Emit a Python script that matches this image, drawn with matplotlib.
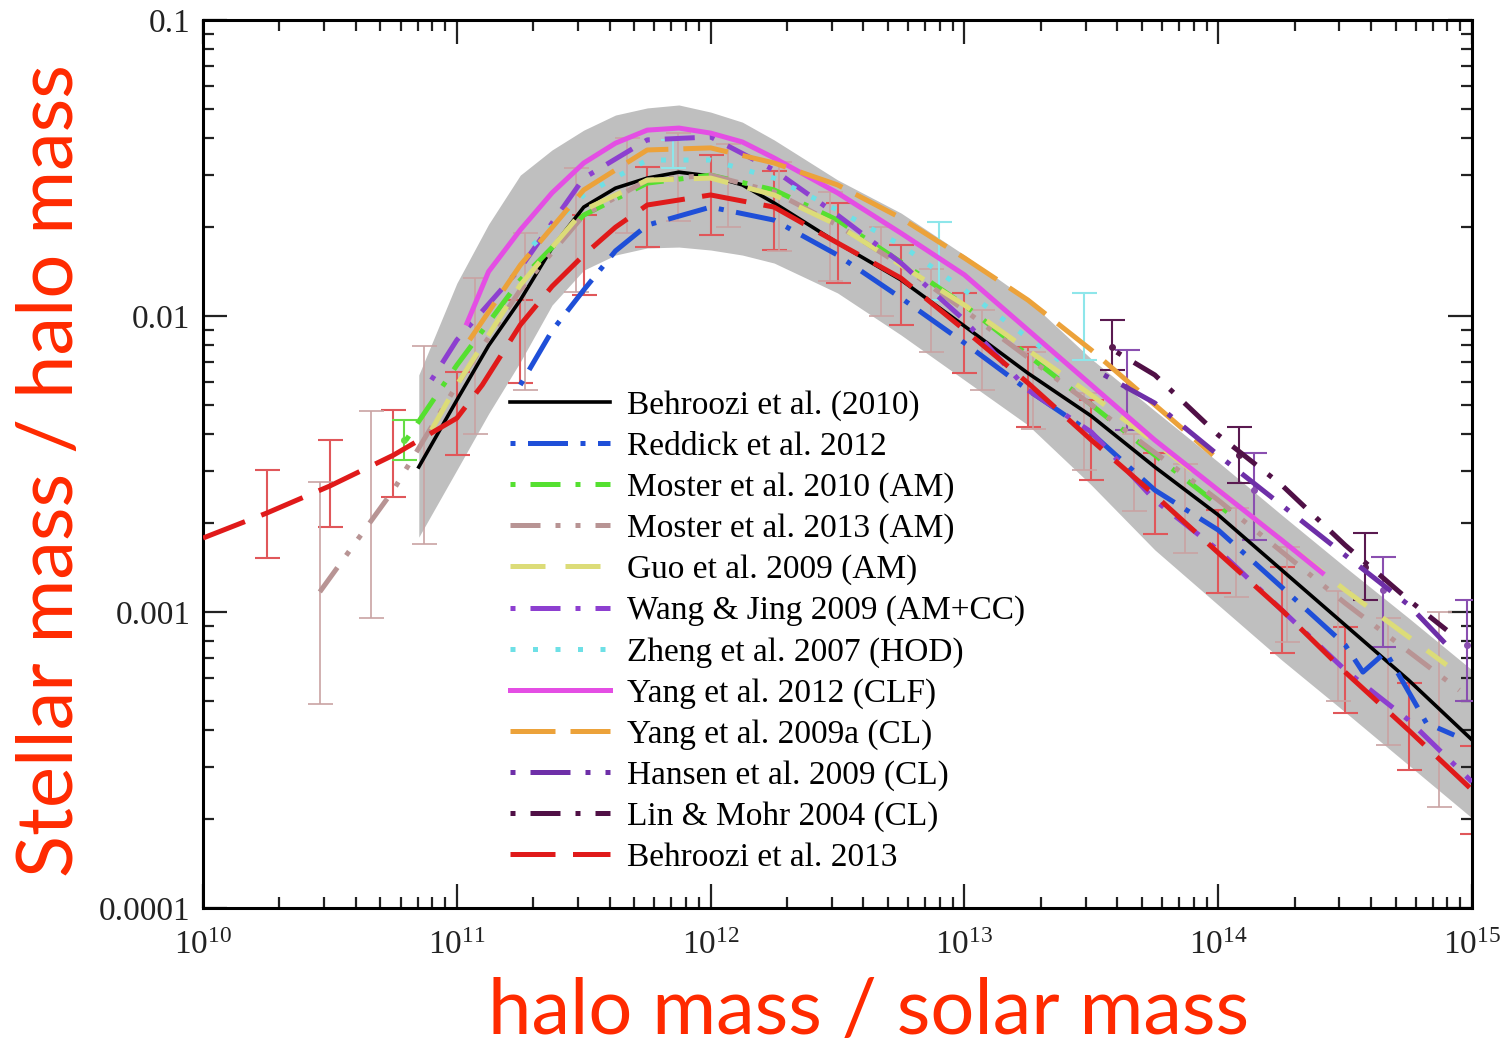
import numpy as np
import matplotlib
matplotlib.use('Agg')
import matplotlib.pyplot as plt
from matplotlib.ticker import LogLocator, FixedLocator, FixedFormatter

plt.rcParams['font.family'] = 'Liberation Serif'
plt.rcParams['mathtext.default'] = 'regular'

# ---- data (log10 halo mass, log10 stellar/halo mass) ----
band_logm = [10.85, 11.0, 11.125, 11.25, 11.375, 11.5, 11.625, 11.75, 11.875, 12.0, 12.125, 12.25, 12.5,
             12.75, 13.0, 13.25, 13.5, 13.75, 14.0, 14.25, 14.5, 14.75, 15.0]
band_hi = [-2.199, -1.889, -1.69, -1.524, -1.439, -1.372, -1.321, -1.297, -1.287, -1.311, -1.345, -1.405, -1.54,
           -1.652, -1.794, -1.946, -2.145, -2.32, -2.493, -2.672, -2.848, -3.02, -3.196]
band_lo = [-2.747, -2.52, -2.33, -2.155, -1.963, -1.845, -1.794, -1.77, -1.767, -1.777, -1.794, -1.821, -1.922,
           -2.064, -2.216, -2.368, -2.571, -2.79, -2.976, -3.162, -3.338, -3.517, -3.696]

beh10_logm = [10.85, 11.0, 11.125, 11.25, 11.375, 11.5, 11.625, 11.75, 11.875, 12.0, 12.125, 12.25, 12.5,
              12.75, 13.0, 13.25, 13.5, 13.75, 14.0, 14.25, 14.5, 14.75, 15.0]
beh10_logr = [-2.51, -2.284, -2.10, -1.946, -1.77, -1.632, -1.568, -1.534, -1.514, -1.527, -1.557, -1.618, -1.753,
              -1.878, -2.034, -2.193, -2.338, -2.51, -2.672, -2.858, -3.044, -3.23, -3.432]

reddick_logm = [11.25, 11.375, 11.5, 11.625, 11.75, 12.0, 12.25, 12.5, 12.75, 13.0, 13.25, 13.5, 13.75, 14.0,
                14.25, 14.5, 14.57, 14.66, 14.78, 14.82, 14.93]
reddick_logr = [-2.233, -2.05, -1.912, -1.78, -1.693, -1.632, -1.676, -1.794, -1.939, -2.091, -2.25, -2.395,
                -2.588, -2.723, -2.916, -3.111, -3.203, -3.135, -3.314, -3.375, -3.416]

moster10_logm = [10.8, 11.0, 11.25, 11.5, 11.75, 12.0, 12.25, 12.5, 12.75, 13.0, 13.25, 13.5, 13.75, 14.05]
moster10_logr = [-2.419, -2.166, -1.878, -1.659, -1.551, -1.524, -1.574, -1.676, -1.818, -1.963, -2.132,
                 -2.30, -2.47, -2.672]

moster13_logm = [10.46, 10.75, 11.0, 11.25, 11.5, 11.75, 12.0, 12.25, 12.5, 12.75, 13.0, 13.5, 14.0, 14.5, 14.95]
moster13_logr = [-2.932, -2.588, -2.233, -1.912, -1.659, -1.541, -1.524, -1.581, -1.693, -1.828, -1.98,
                 -2.30, -2.622, -2.97, -3.264]

guo_logm = [10.9, 11.0, 11.25, 11.5, 11.75, 12.0, 12.25, 12.5, 12.75, 13.0, 13.5, 14.0, 14.5, 14.9]
guo_logr = [-2.385, -2.233, -1.895, -1.642, -1.541, -1.534, -1.591, -1.693, -1.828, -1.963, -2.267,
            -2.588, -2.926, -3.179]

wang_logm = [10.9, 11.0, 11.25, 11.5, 11.75, 12.0, 12.25, 12.5, 12.75, 13.0, 13.25, 13.5, 13.75, 14.0,
             14.25, 14.5, 14.75, 15.0]
wang_logr = [-2.216, -2.081, -1.838, -1.534, -1.405, -1.395, -1.507, -1.659, -1.821, -2.014, -2.25, -2.392,
             -2.622, -2.791, -2.993, -3.196, -3.365, -3.574]

zheng_logm = [11.3, 11.5, 11.75, 12.0, 12.25, 12.5, 12.75, 13.0, 13.25, 13.4]
zheng_logr = [-1.76, -1.591, -1.473, -1.473, -1.534, -1.642, -1.76, -1.912, -2.074, -2.166]

yang12_logm = [11.04, 11.125, 11.25, 11.375, 11.5, 11.625, 11.75, 11.875, 12.0, 12.125, 12.25, 12.5, 12.75,
               13.0, 13.25, 13.5, 13.75, 14.0, 14.25, 14.41]
yang12_logr = [-2.024, -1.85, -1.709, -1.584, -1.483, -1.416, -1.372, -1.365, -1.382, -1.412, -1.466, -1.584,
               -1.72, -1.861, -2.047, -2.233, -2.419, -2.588, -2.757, -2.868]

yang09_logm = [11.05, 11.25, 11.5, 11.75, 12.0, 12.25, 12.5, 12.75, 13.0, 13.25, 13.5, 13.75, 13.98]
yang09_logr = [-2.081, -1.828, -1.574, -1.439, -1.432, -1.483, -1.557, -1.669, -1.804, -1.946, -2.115,
               -2.30, -2.47]

hansen_logm = [13.55, 13.75, 14.0, 14.25, 14.5, 14.75, 14.9]
hansen_logr = [-2.199, -2.294, -2.47, -2.639, -2.808, -2.976, -3.111]

lin_logm = [13.6, 13.75, 14.0, 14.25, 14.5, 14.75, 14.9]
lin_logr = [-2.122, -2.199, -2.402, -2.571, -2.774, -2.959, -3.061]

beh13_logm = [10.0, 10.25, 10.5, 10.75, 11.0, 11.1, 11.25, 11.375, 11.5, 11.625, 11.75, 12.0, 12.25, 12.5,
              12.75, 13.0, 13.25, 13.5, 13.75, 14.0, 14.25, 14.5, 14.75, 15.0]
beh13_logr = [-2.75, -2.666, -2.574, -2.47, -2.345, -2.233, -2.03, -1.90, -1.794, -1.70, -1.625, -1.591,
              -1.632, -1.753, -1.872, -2.047, -2.226, -2.419, -2.605, -2.80, -2.993, -3.203, -3.399, -3.601]

# error bars: Behroozi 2013 (center, half width in dex)
beh13_err_logm = [10.25, 10.5, 10.75, 11.0, 11.25, 11.5, 11.75, 12.0, 12.25, 12.5, 12.75, 13.0, 13.25,
                  13.5, 13.75, 14.0, 14.25, 14.5, 14.75, 15.0]
beh13_err_logr = [-2.669, -2.566, -2.465, -2.329, -2.086, -1.794, -1.632, -1.591, -1.644, -1.753, -1.895,
                  -2.057, -2.24, -2.419, -2.601, -2.796, -2.993, -3.196, -3.387, -3.601]
beh13_err_dex = [0.149, 0.147, 0.147, 0.14, 0.14, 0.135, 0.135, 0.135, 0.134, 0.135, 0.135, 0.135, 0.135,
                 0.135, 0.137, 0.14, 0.145, 0.145, 0.147, 0.15]

# error bars: Moster 2013 (low, high)
moster13_err_logm = [10.46, 10.66, 10.87, 11.07, 11.27, 11.47, 11.67, 11.87, 12.07, 12.27, 12.47, 12.67,
                     12.87, 13.07, 13.27, 13.47, 13.67, 13.87, 14.07, 14.27, 14.47, 14.67, 14.87]
moster13_err_lo = [-3.31, -3.02, -2.77, -2.40, -2.25, -1.92, -1.72, -1.68, -1.70, -1.78, -1.88, -2.00,
                   -2.12, -2.25, -2.38, -2.52, -2.66, -2.80, -2.95, -3.10, -3.30, -3.45, -3.66]
moster13_err_hi = [-2.56, -2.32, -2.10, -1.87, -1.72, -1.50, -1.40, -1.38, -1.42, -1.48, -1.58, -1.70,
                   -1.84, -1.98, -2.12, -2.26, -2.40, -2.50, -2.65, -2.78, -2.93, -3.02, -3.00]

# error bars with points: Hansen, Lin & Mohr, Zheng, Moster 2010
hansen_pt_logm = [13.64, 14.14, 14.65, 14.98]
hansen_pt_logr = [-2.24, -2.588, -2.926, -3.111]
hansen_pt_lo = [-2.385, -2.757, -3.118, -3.30]
hansen_pt_hi = [-2.115, -2.463, -2.814, -2.96]

lin_pt_logm = [13.58, 14.08, 14.58]
lin_pt_logr = [-2.105, -2.47, -2.848]
lin_pt_lo = [-2.182, -2.564, -2.96]
lin_pt_hi = [-2.014, -2.375, -2.733]

zheng_pt_logm = [11.85, 12.9, 13.47]
zheng_pt_lo = [-1.50, -1.946, -2.149]
zheng_pt_hi = [-1.405, -1.682, -1.922]

moster10_pt_logm = [10.79]
moster10_pt_logr = [-2.42]
moster10_pt_lo = [-2.486]
moster10_pt_hi = [-2.351]

xticks = [1e10, 1e11, 1e12, 1e13, 1e14, 1e15]
xticklabels = [r'$10^{10}$', r'$10^{11}$', r'$10^{12}$', r'$10^{13}$', r'$10^{14}$', r'$10^{15}$']
yticks = [1e-4, 1e-3, 1e-2, 1e-1]
yticklabels = ['0.0001', '0.001', '0.01', '0.1']


def p(a):
    return 10 ** np.asarray(a, dtype=float)


def main():
    fig = plt.figure(figsize=(15.03, 10.54), dpi=100)
    ax = fig.add_axes([0.1351, 0.1385, 0.8443, 0.8425])
    ax.set_xscale('log')
    ax.set_yscale('log')

    ax.fill_between(p(band_logm), p(band_lo), p(band_hi), color='#bfbfbf', lw=0, zorder=1)

    # error bars
    c = np.asarray(beh13_err_logr)
    e = np.asarray(beh13_err_dex)
    ax.errorbar(p(beh13_err_logm), p(c), yerr=[p(c) - p(c - e), p(c + e) - p(c)], fmt='none',
                ecolor='#e0575a', elinewidth=1.5, capsize=9, capthick=1.5, zorder=2)
    lo = np.asarray(moster13_err_lo)
    hi = np.asarray(moster13_err_hi)
    mid = (lo + hi) / 2
    ax.errorbar(p(moster13_err_logm), p(mid), yerr=[p(mid) - p(lo), p(hi) - p(mid)], fmt='none',
                ecolor='#c9a3a3', elinewidth=1.2, capsize=9, capthick=1.2, zorder=2)
    for lm, lr, l, h, col in [(hansen_pt_logm, hansen_pt_logr, hansen_pt_lo, hansen_pt_hi, '#8a4fb0'),
                              (lin_pt_logm, lin_pt_logr, lin_pt_lo, lin_pt_hi, '#5a1a50'),
                              (moster10_pt_logm, moster10_pt_logr, moster10_pt_lo, moster10_pt_hi, '#66dd44')]:
        lr = np.asarray(lr)
        ax.errorbar(p(lm), p(lr), yerr=[p(lr) - p(l), p(h) - p(lr)], fmt='o', ms=4, color=col,
                    ecolor=col, elinewidth=1.5, capsize=9, capthick=1.5, zorder=3)
    zl = np.asarray(zheng_pt_lo)
    zh = np.asarray(zheng_pt_hi)
    zm = (zl + zh) / 2
    ax.errorbar(p(zheng_pt_logm), p(zm), yerr=[p(zm) - p(zl), p(zh) - p(zm)], fmt='none',
                ecolor='#8ee6ea', elinewidth=1.5, capsize=9, capthick=1.5, zorder=2)

    lw = 3.6
    series = [
        (beh10_logm, beh10_logr, 'black', '-', 2.6, 'Behroozi et al. (2010)'),
        (reddick_logm, reddick_logr, '#1f4fd8', (0, (1, 2.5, 8, 2.5)), lw, 'Reddick et al. 2012'),
        (moster10_logm, moster10_logr, '#55e030', (0, (1, 3, 6, 3)), lw, 'Moster et al. 2010 (AM)'),
        (moster13_logm, moster13_logr, '#b89494', (0, (6, 3, 1, 3, 1, 3)), lw, 'Moster et al. 2013 (AM)'),
        (guo_logm, guo_logr, '#dcdc78', (0, (7, 4)), lw, 'Guo et al. 2009 (AM)'),
        (wang_logm, wang_logr, '#8d3fd0', (0, (1, 3, 6, 3)), lw, 'Wang & Jing 2009 (AM+CC)'),
        (zheng_logm, zheng_logr, '#6ee0e6', (0, (1, 3.5)), lw, 'Zheng et al. 2007 (HOD)'),
        (yang12_logm, yang12_logr, '#e44ee4', '-', lw, 'Yang et al. 2012 (CLF)'),
        (yang09_logm, yang09_logr, '#eca23a', (0, (9, 3)), lw, 'Yang et al. 2009a (CL)'),
        (hansen_logm, hansen_logr, '#6e2fa8', (0, (1, 3, 8, 3)), lw, 'Hansen et al. 2009 (CL)'),
        (lin_logm, lin_logr, '#501046', (0, (1, 3, 6, 3)), lw, 'Lin & Mohr 2004 (CL)'),
        (beh13_logm, beh13_logr, '#e01a1a', (0, (9, 3.5)), lw, 'Behroozi et al. 2013'),
    ]
    for lm, lr, col, ls, w, lab in series:
        ax.plot(p(lm), p(lr), color=col, ls=ls, lw=w, label=lab, zorder=4)

    ax.set_xlim(1e10, 1e15)
    ax.set_ylim(1e-4, 1e-1)
    ax.xaxis.set_major_locator(FixedLocator(xticks))
    ax.xaxis.set_major_formatter(FixedFormatter(xticklabels))
    ax.yaxis.set_major_locator(FixedLocator(yticks))
    ax.yaxis.set_major_formatter(FixedFormatter(yticklabels))
    ax.xaxis.set_minor_locator(LogLocator(base=10, subs=np.arange(2, 10), numticks=20))
    ax.yaxis.set_minor_locator(LogLocator(base=10, subs=np.arange(2, 10), numticks=20))
    ax.xaxis.set_minor_formatter(plt.NullFormatter())
    ax.yaxis.set_minor_formatter(plt.NullFormatter())
    ax.tick_params(which='both', direction='in', top=True, right=True, width=1.6, colors='#222222')
    ax.tick_params(which='major', length=17, labelsize=24)
    ax.tick_params(axis='x', which='major', pad=16)
    ax.tick_params(axis='y', which='major', pad=9)
    ax.tick_params(which='minor', length=8)
    for s in ax.spines.values():
        s.set_linewidth(2.2)

    ax.legend(loc='upper left', bbox_to_anchor=(0.242, 0.583), frameon=False, fontsize=24,
              handlelength=3.0, handletextpad=0.5, labelspacing=0.31, borderpad=0, borderaxespad=0)

    fig.text(0.578, 0.019, 'halo mass / solar mass', color='#ff2a00', fontsize=56,
             family='Lato', ha='center', va='baseline')
    fig.text(0.034, 0.554, 'Stellar mass / halo mass', color='#ff2a00', fontsize=56,
             family='Lato', ha='center', va='center', rotation=90)

    fig.savefig('out.png', dpi=100)
    plt.close(fig)


if __name__ == '__main__':
    main()
